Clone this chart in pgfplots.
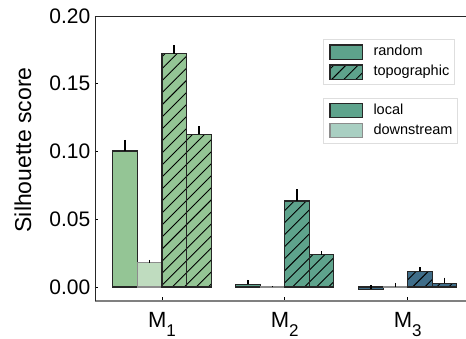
\documentclass[border=0pt]{standalone}
\usepackage{fontspec}
\setmainfont{Liberation Sans}
\usepackage{pgfplots}
\pgfplotsset{compat=1.18}
\usetikzlibrary{patterns.meta}
\definecolor{cA}{HTML}{94C595}
\definecolor{cAl}{HTML}{BFDCBF}
\definecolor{cB}{HTML}{5EA38C}
\definecolor{cBl}{HTML}{A9CFC2}
\definecolor{cC}{HTML}{3F6D89}
\definecolor{edge}{HTML}{262626}
\tikzset{hatch/.style={postaction={pattern={Lines[angle=45,distance=8.5bp,line width=0.9bp]},pattern color=black}}}
\pgfplotsset{
  mybar/.style={ybar, bar width=0.2, bar shift=0pt, draw=edge, line width=1.1bp, forget plot,
    error bars/y dir=plus, error bars/y explicit, error bars/error mark=none,
    error bars/error bar style={line width=1.5bp, black}},
  lightbar/.style={draw=black!45},
  mylegend/.style={
    legend image code/.code={\draw[##1] (0bp,-7bp) rectangle (32.7bp,7bp);},
    legend cell align=left,
    legend style={anchor=north west, draw=black!13, line width=1bp, fill=white,
      inner xsep=5.5bp, inner ysep=5bp, row sep=4.8bp,
      font=\fontsize{14.5bp}{14.5bp}\selectfont,
      nodes={inner sep=0pt, text height=10.5bp, text depth=3.5bp},
      /tikz/every odd column/.append style={column sep=10.3bp}}
  },
  common/.style={scale only axis, width=371bp, height=285bp,
    xmin=-0.545, xmax=2.475, ymin=-0.0103, ymax=0.20}
}
\newcommand{\msub}[1]{M\raisebox{-0.4em}{\fontsize{17bp}{17bp}\selectfont #1}}
\begin{document}
\begin{tikzpicture}
\begin{axis}[common,
  axis x line*=bottom, axis y line*=left,
  x axis line style={draw=black!50, line width=1.6bp, -},
  y axis line style={draw=black!85, line width=0.9bp, -},
  tick align=inside, major tick length=3.5bp,
  tick style={black, line width=0.8bp},
  xtick={0,1,2},
  xticklabels={\msub{1},\msub{2},\msub{3}},
  xticklabel style={font=\fontsize{22bp}{22bp}\selectfont, inner sep=0pt, anchor=north, yshift=-11.5bp},
  ytick={0,0.05,0.10,0.15,0.20},
  yticklabel style={font=\fontsize{21bp}{21bp}\selectfont, inner sep=0pt, anchor=east, xshift=-4.5bp,
    /pgf/number format/fixed, /pgf/number format/fixed zerofill, /pgf/number format/precision=2, /pgf/number format/assume math mode=true},
  ylabel={Silhouette score},
  ylabel style={font=\fontsize{23bp}{23bp}\selectfont, at={(axis description cs:-0.194,0.53)}, anchor=center},
  mylegend,
  legend style={at={(axis description cs:0.6154,0.9193)}},
]
% M1
\addplot[mybar, fill=cA] coordinates {(-0.3,0.1004) +- (0,0.0082)};
\addplot[mybar, fill=cAl, lightbar] coordinates {(-0.1,0.0179) +- (0,0.0022)};
\addplot[mybar, fill=cA, hatch] coordinates {(0.1,0.1722) +- (0,0.0062)};
\addplot[mybar, fill=cA, hatch] coordinates {(0.3,0.1127) +- (0,0.0060)};
% M2
\addplot[mybar, fill=cB] coordinates {(0.7,0.0020) +- (0,0.0032)};
\addplot[mybar, fill=cBl, lightbar] coordinates {(0.9,0.0000) +- (0,0.0006)};
\addplot[mybar, fill=cB, hatch] coordinates {(1.1,0.0635) +- (0,0.0086)};
\addplot[mybar, fill=cB, hatch] coordinates {(1.3,0.0240) +- (0,0.0025)};
% M3
\addplot[mybar, fill=cC] coordinates {(1.7,-0.0015) +- (0,0.0030)};
\addplot[mybar, fill=cC!45, lightbar] coordinates {(1.9,0.0000) +- (0,0.0030)};
\addplot[mybar, fill=cC, hatch] coordinates {(2.1,0.0116) +- (0,0.0032)};
\addplot[mybar, fill=cC, hatch] coordinates {(2.3,0.0027) +- (0,0.0042)};
\draw[black!85, line width=0.9bp] (rel axis cs:0,1) -- (rel axis cs:1,1);
\coordinate (o) at (rel axis cs:0,0);
\addlegendimage{fill=cB, draw=edge, line width=1.2bp}
\addlegendentry{random}
\addlegendimage{fill=cB, draw=edge, line width=1.2bp, hatch}
\addlegendentry{topographic}
\end{axis}
\begin{axis}[common, hide axis, mylegend,
  legend style={at={(axis description cs:0.6154,0.7133)}}]
\addlegendimage{fill=cB, draw=edge, line width=1.2bp}
\addlegendentry{local}
\addlegendimage{fill=cBl, draw=black!45, line width=1.2bp}
\addlegendentry{downstream}
\end{axis}
\pgfresetboundingbox
\path[use as bounding box] ([shift={(-95bp,-38bp)}]o) rectangle ([shift={(371bp,301bp)}]o);
\end{tikzpicture}
\end{document}
